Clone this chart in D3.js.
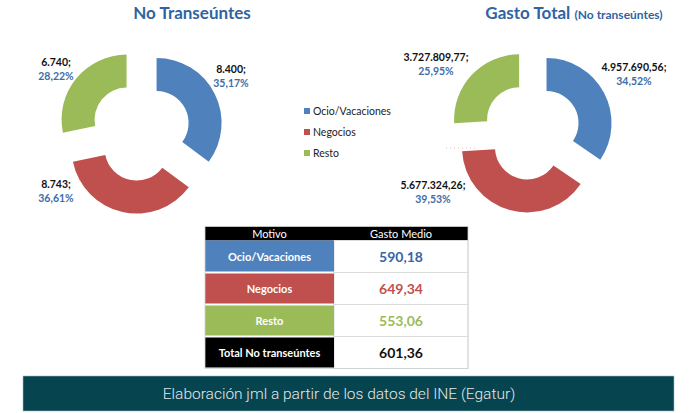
<!DOCTYPE html>
<html><head><meta charset="utf-8">
<script src="https://cdn.jsdelivr.net/npm/d3@7/dist/d3.min.js"></script>
<style>
html,body{margin:0;padding:0;background:#fff;}
svg{display:block;}
</style></head>
<body>
<svg id="chart" width="695" height="413"></svg>
<script>
// ---------- DATA ----------
const categories = ["Ocio/Vacaciones", "Negocios", "Resto"];
const noTranseuntes = [8400, 8743, 6740];
const gastoTotal = [4957690.56, 5677324.26, 3727809.77];
const gastoMedio = [590.18, 649.34, 553.06];
const totalLabel = "Total No transeúntes";
const totalGastoMedio = 601.36;
const tableHeader = ["Motivo", "Gasto Medio"];
const sourceText = "Elaboración jml a partir de los datos del INE (Egatur)";

// ---------- STYLE ----------
const colors = ["#4f81bd", "#c0504d", "#9bbb59"];
const valueColors = ["#3566a6", "#c0504d", "#9bbb59"];
const titleBlue = "#2f64a3";
const pctBlue = "#3d6da9";
const FONT = "Lato, 'Open Sans', sans-serif";

const es = d3.formatLocale({decimal: ",", thousands: ".", grouping: [3], currency: ["", "€"]});
const fmtInt = es.format(",d");
const fmt2 = es.format(",.2f");
const fmtPct = v => es.format(".2f")(v * 100) + "%";

const svg = d3.select("#chart");

// ---------- DONUTS ----------
const pie = d3.pie().sort(null).value(d => d);
const R = 65, r = 32;
const arc = d3.arc().innerRadius(r).outerRadius(R);

function donut(values, cx, cy, explode, fmtVal, labelPos) {
  const g = svg.append("g").attr("transform", `translate(${cx},${cy})`);
  const arcs = pie(values);
  const total = d3.sum(values);
  g.selectAll("path").data(arcs).join("path")
    .attr("d", arc)
    .attr("fill", (d, i) => colors[i])
    .attr("transform", d => {
      const a = (d.startAngle + d.endAngle) / 2;
      return `translate(${explode * Math.sin(a)},${-explode * Math.cos(a)})`;
    });
  const lab = svg.append("g").attr("font-family", FONT).attr("font-weight", 700)
    .attr("font-size", 10.5).attr("text-anchor", "middle");
  arcs.forEach((d, i) => {
    const [lx, ly] = labelPos[i];
    lab.append("text").attr("x", lx).attr("y", ly + 4).attr("fill", "#111")
      .text(fmtVal(d.data) + ";");
    lab.append("text").attr("x", lx).attr("y", ly + 17.5).attr("fill", pctBlue)
      .text(fmtPct(d.data / total));
  });
}

donut(noTranseuntes, 140.5, 131, 18, fmtInt, [[231, 69], [56, 184], [56, 62]]);
donut(gastoTotal, 531.5, 131, 17, fmt2, [[634, 67], [433, 185], [436, 57]]);

// faint leader remnant (right donut)
svg.append("line").attr("x1", 446).attr("x2", 475).attr("y1", 148).attr("y2", 148)
  .attr("stroke", "#f2b8b8").attr("stroke-width", 1).attr("stroke-dasharray", "1,3");

// ---------- TITLES ----------
svg.append("text").attr("x", 192).attr("y", 19).attr("text-anchor", "middle")
  .attr("font-family", FONT).attr("font-weight", 700).attr("font-size", 17)
  .attr("fill", titleBlue).text("No Transeúntes");
const t2 = svg.append("text").attr("x", 574).attr("y", 19).attr("text-anchor", "middle")
  .attr("font-family", FONT).attr("font-weight", 700).attr("fill", titleBlue);
t2.append("tspan").attr("font-size", 17).text("Gasto Total ");
t2.append("tspan").attr("font-size", 12).text("(No transeúntes)");

// ---------- LEGEND ----------
const leg = svg.append("g").attr("font-family", FONT).attr("font-size", 10.5).attr("fill", "#222");
const ly = d3.scalePoint().domain(categories).range([111.5, 153.5]);
categories.forEach((c, i) => {
  leg.append("rect").attr("x", 304).attr("y", ly(c) - 3.5).attr("width", 6).attr("height", 6)
    .attr("fill", colors[i]);
  leg.append("text").attr("x", 313).attr("y", ly(c) + 3.8).text(c);
});

// ---------- TABLE ----------
const tx0 = 205, tSplit = 334, tx1 = 468;
const rows = categories.concat([totalLabel]);
const rowVals = gastoMedio.concat([totalGastoMedio]);
const rowFill = colors.concat(["#000"]);
const rowValColor = valueColors.concat(["#111"]);
const ry = d3.scaleBand().domain(rows).range([240.5, 368.5]);
const tb = svg.append("g").attr("font-family", FONT);
// header
tb.append("rect").attr("x", tx0).attr("y", 226.5).attr("width", tx1 - tx0).attr("height", 14).attr("fill", "#000");
tb.append("text").attr("x", (tx0 + tSplit) / 2).attr("y", 237.5).attr("text-anchor", "middle")
  .attr("font-size", 11).attr("fill", "#fff").text(tableHeader[0]);
tb.append("text").attr("x", (tSplit + tx1) / 2).attr("y", 237.5).attr("text-anchor", "middle")
  .attr("font-size", 11).attr("fill", "#fff").text(tableHeader[1]);
rows.forEach((row, i) => {
  const y = ry(row), h = ry.bandwidth();
  tb.append("rect").attr("x", tSplit).attr("y", y).attr("width", tx1 - tSplit).attr("height", h)
    .attr("fill", "#fff").attr("stroke", "#dcdcdc").attr("stroke-width", 1);
  tb.append("rect").attr("x", tx0).attr("y", y + (i === 0 ? 0 : 1)).attr("width", tSplit - tx0)
    .attr("height", h - (i === 0 ? 1 : 2)).attr("fill", rowFill[i]);
  tb.append("text").attr("x", (tx0 + tSplit) / 2).attr("y", y + h / 2 + 4).attr("text-anchor", "middle")
    .attr("font-size", 11).attr("font-weight", 700).attr("fill", "#fff").text(row);
  tb.append("text").attr("x", (tSplit + tx1) / 2).attr("y", y + h / 2 + 5.5).attr("text-anchor", "middle")
    .attr("font-size", 14).attr("font-weight", 700).attr("fill", rowValColor[i]).text(fmt2(rowVals[i]));
});
tb.append("rect").attr("x", tx0).attr("y", 226.5).attr("width", tx1 - tx0).attr("height", 368.5 - 226.5)
  .attr("fill", "none").attr("stroke", "#d0d0d0").attr("stroke-width", 0.8);

// ---------- FOOTER ----------
svg.append("rect").attr("x", 23).attr("y", 376).attr("width", 651).attr("height", 35)
  .attr("fill", "#06444f").attr("stroke", "#9fc0c6").attr("stroke-width", 0.6);
svg.append("text").attr("x", 339).attr("y", 398.5).attr("text-anchor", "middle")
  .attr("font-family", "Roboto, sans-serif").attr("font-weight", 300).attr("font-size", 15.5)
  .attr("fill", "#e4e8ea").text(sourceText);
</script>
</body></html>
